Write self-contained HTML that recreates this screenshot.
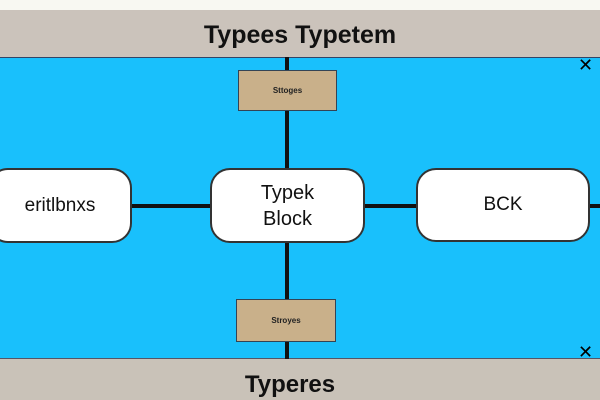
<!DOCTYPE html>
<html><head><style>
body{margin:0;width:600px;height:400px;overflow:hidden;background:#c9c2b8;font-family:"Liberation Sans",sans-serif;position:relative}
div{position:absolute;box-sizing:border-box}
.node{background:#fff;border:2px solid #333;border-radius:20px;display:flex;align-items:center;justify-content:center;text-align:center;color:#111}
.tan{background:#c9b08a;border:1px solid #345;font-size:8px;display:flex;align-items:center;justify-content:center;color:#222;font-weight:bold}
</style></head><body>
<div style="left:0;top:0;width:600px;height:10px;background:#f8f8f2"></div>
<div style="left:0;top:10px;width:600px;height:47px;background:#cbc3bb"></div>
<div style="left:0;top:21px;width:600px;text-align:center;font-size:25px;font-weight:bold;color:#111">Typees Typetem</div>
<div style="left:0;top:57px;width:600px;height:302px;background:#19c0fc;border-top:1px solid #346;border-bottom:1px solid #556"></div>
<div style="left:285px;top:57px;width:4px;height:302px;background:#111"></div>
<div style="left:0;top:204px;width:600px;height:4px;background:#111"></div>
<div class="tan" style="left:238px;top:70px;width:99px;height:41px">Sttoges</div>
<div class="tan" style="left:236px;top:299px;width:100px;height:43px">Stroyes</div>
<div class="node" style="left:-12px;top:168px;width:144px;height:75px;font-size:19px">eritlbnxs</div>
<div class="node" style="left:210px;top:168px;width:155px;height:75px;font-size:20px;line-height:1.3">Typek<br>Block</div>
<div class="node" style="left:416px;top:168px;width:174px;height:74px;font-size:19px">BCK</div>
<div style="left:578px;top:55px;font-size:18px;color:#000">✕</div>
<div style="left:578px;top:342px;font-size:18px;color:#000">✕</div>
<div style="left:0;top:371px;width:580px;text-align:center;font-size:24px;font-weight:bold;color:#111">Typeres</div>
</body></html>
